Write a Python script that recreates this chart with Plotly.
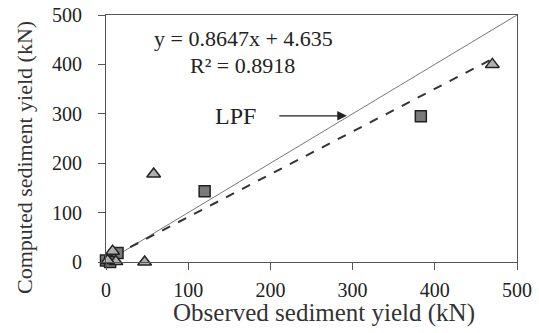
import plotly.graph_objects as go

# Data
tri_x = [470, 58, 47, 8, 12, 2]
tri_y = [400, 178, 0, 22, 1, 3]
sq_x = [383, 120, 14, 0, 5]
sq_y = [295, 143, 18, 3, 0]

slope = 0.8647
intercept = 4.635
fit_x = [10, 470]
fit_y = [slope * v + intercept for v in fit_x]
one_x = [0, 500]
one_y = [0, 500]

tick_vals = [0, 100, 200, 300, 400, 500]
tick_text = ["0", "100", "200", "300", "400", "500"]

FONT = "Liberation Serif, Times New Roman, serif"

fig = go.Figure()
fig.add_trace(go.Scatter(x=one_x, y=one_y, mode="lines",
                         line=dict(color="#777777", width=1), showlegend=False, hoverinfo="skip"))
fig.add_trace(go.Scatter(x=fit_x, y=fit_y, mode="lines",
                         line=dict(color="#333333", width=2, dash="dash"), showlegend=False, hoverinfo="skip"))
fig.add_trace(go.Scatter(x=sq_x, y=sq_y, mode="markers", cliponaxis=False,
                         marker=dict(symbol="square", size=11, color="#7a7a7a",
                                     line=dict(color="#222222", width=1.5)), showlegend=False))
fig.add_trace(go.Scatter(x=tri_x, y=tri_y, mode="markers", cliponaxis=False,
                         marker=dict(symbol="triangle-up", size=12, color="#b0b0b0",
                                     line=dict(color="#222222", width=1.5)), showlegend=False))

axis_common = dict(range=[0, 500], tickvals=tick_vals, ticktext=tick_text,
                   showline=True, mirror=True, linecolor="#555555", linewidth=1,
                   ticks="outside", ticklen=7, tickcolor="#555555",
                   showgrid=False, zeroline=False, automargin=False,
                   tickfont=dict(family=FONT, size=20, color="#222222"))

fig.update_xaxes(**axis_common, ticklabelstandoff=3)
fig.update_yaxes(**axis_common, ticklabelstandoff=12)

fig.add_annotation(text="y = 0.8647x + 4.635", x=167, y=452, xref="x", yref="y",
                   showarrow=False, font=dict(family=FONT, size=22, color="#222222"))
fig.add_annotation(text="R² = 0.8918", x=166, y=398, xref="x", yref="y",
                   showarrow=False, font=dict(family=FONT, size=22, color="#222222"))
fig.add_annotation(text="LPF", x=158, y=296, xref="x", yref="y",
                   showarrow=False, font=dict(family=FONT, size=24, color="#222222"))
fig.add_annotation(text="", x=293, y=296, xref="x", yref="y",
                   ax=209, ay=296, axref="x", ayref="y",
                   showarrow=True, arrowhead=2, arrowsize=1.6, arrowwidth=1.2, arrowcolor="#222222")

fig.add_annotation(text="Observed sediment yield (kN)", x=0.53, y=-0.205, xref="paper", yref="paper",
                   showarrow=False, xanchor="center", yanchor="middle",
                   font=dict(family=FONT, size=25, color="#333333"))
fig.add_annotation(text="Computed sediment yield (kN)", x=-0.1995, y=0.421, xref="paper", yref="paper",
                   showarrow=False, xanchor="center", yanchor="middle", textangle=-90,
                   font=dict(family=FONT, size=22, color="#333333"))

fig.update_layout(width=539, height=333, margin=dict(l=106, r=22, t=15, b=71),
                  plot_bgcolor="white", paper_bgcolor="white")

fig.write_html("out.html")
